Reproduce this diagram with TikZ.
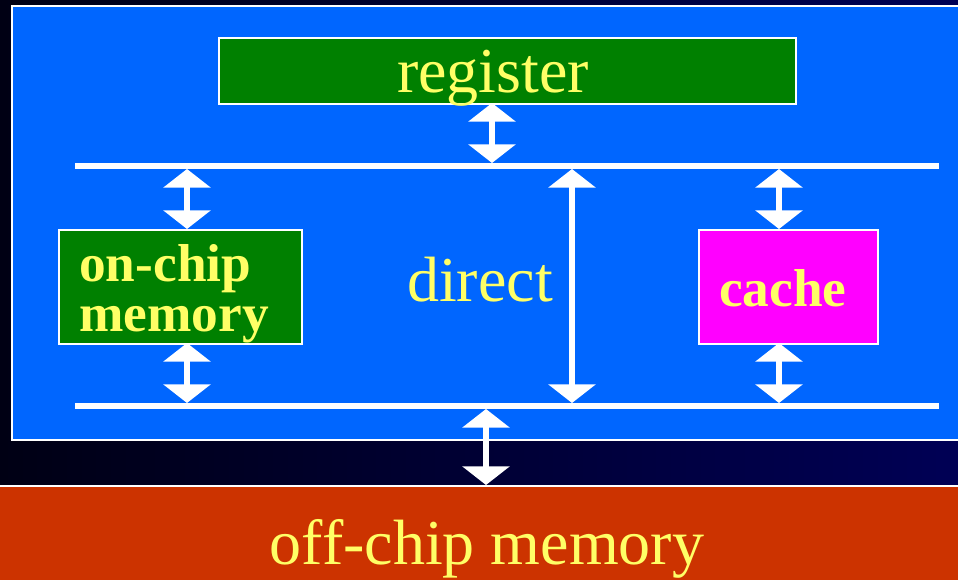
\documentclass[tikz,border=0pt]{standalone}
\usepackage{fontspec}
\setmainfont{Liberation Serif}
\usetikzlibrary{arrows.meta}
\definecolor{bgblue}{RGB}{0,102,255}
\definecolor{boxgreen}{RGB}{0,128,0}
\definecolor{cachemag}{RGB}{255,0,255}
\definecolor{offred}{RGB}{204,51,0}
\definecolor{txtyellow}{RGB}{255,255,102}
\definecolor{darkL}{RGB}{0,0,20}
\definecolor{darkR}{RGB}{0,0,85}
\tikzset{
  box/.style={draw=white, line width=1.5pt, inner sep=0pt, anchor=north west},
  bus/.style={white, line width=4.5pt},
  dbl/.style={white, line width=4.5pt,
    {Triangle[width=35pt,length=14pt]}-{Triangle[width=35pt,length=14pt]}},
  lbl/.style={text=txtyellow, inner sep=0pt, anchor=base, font=\fontsize{48}{52}\selectfont},
  blbl/.style={text=txtyellow, inner sep=0pt, anchor=base west, font=\fontsize{40}{44}\selectfont\bfseries}
}
\begin{document}
\begin{tikzpicture}[x=0.75pt,y=-0.75pt]
\useasboundingbox (0,0) rectangle (958,580);
% background
\shade[left color=darkL, right color=darkR] (0,0) rectangle (958,580);
\fill[offred] (0,487) rectangle (958,580);
\draw[white, line width=1.5pt] (0,486) -- (958,486);
% chip area
\node[box, fill=bgblue, minimum width=720pt, minimum height=325.5pt] (chip) at (11,5) {};
% boxes
\node[box, fill=boxgreen, minimum width=432.75pt, minimum height=49.5pt] (reg) at (218,37) {};
\node[box, fill=boxgreen, minimum width=182.25pt, minimum height=85.5pt] (onchip) at (58,229) {};
\node[box, fill=cachemag, minimum width=134.25pt, minimum height=85.5pt] (cache) at (698,229) {};
% bus lines
\coordinate (t1) at (75,166);
\coordinate (t2) at (939,166);
\coordinate (b1) at (75,406);
\coordinate (b2) at (939,406);
\draw[bus] (t1) -- (t2);
\draw[bus] (b1) -- (b2);
% arrow end points
\coordinate (regA) at (492,103);
\coordinate (regB) at (492,163);
\coordinate (ocA) at (187,169);
\coordinate (ocB) at (187,229);
\coordinate (ocC) at (187,343);
\coordinate (ocD) at (187,403);
\coordinate (caA) at (779,169);
\coordinate (caB) at (779,229);
\coordinate (caC) at (779,343);
\coordinate (caD) at (779,403);
\coordinate (dA) at (572,169);
\coordinate (dB) at (572,403);
\coordinate (offA) at (486,409);
\coordinate (offB) at (486,485);
\draw[dbl] (regA) -- (regB);
\draw[dbl] (ocA) -- (ocB);
\draw[dbl] (ocC) -- (ocD);
\draw[dbl] (caA) -- (caB);
\draw[dbl] (caC) -- (caD);
\draw[dbl] (dA) -- (dB);
\draw[dbl] (offA) -- (offB);
% labels
\node[lbl] (regt) at (493,93) {register};
\node[lbl] (dirt) at (480,302) {direct};
\node[lbl] (offt) at (487,565) {off-chip memory};
\node[blbl] (oct1) at (79,282) {on-chip};
\node[blbl] (oct2) at (79,332) {memory};
\node[blbl] (cat) at (719,307) {cache};
\end{tikzpicture}
\end{document}
